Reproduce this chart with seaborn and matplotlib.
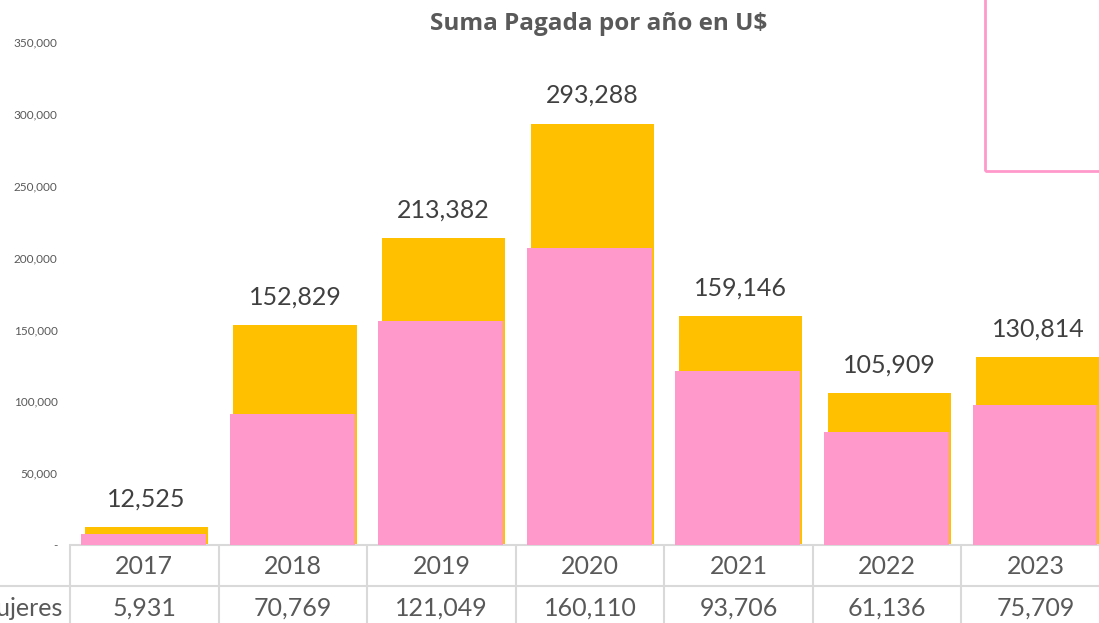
import numpy as np
import pandas as pd
import matplotlib.pyplot as plt
import seaborn as sns
from matplotlib.patches import Rectangle
from matplotlib.transforms import blended_transform_factory

# Data
years = ['2017', '2018', '2019', '2020', '2021', '2022', '2023']
total_pagado = [12525, 152829, 213382, 293288, 159146, 105909, 130814]
mujeres = [5931, 70769, 121049, 160110, 93706, 61136, 75709]

orange = '#FFC000'
pink = '#FF99CC'
grid_gray = '#D9D9D9'
text_gray = '#595959'

sns.set_style('white')
plt.rcParams['font.family'] = ['Lato', 'DejaVu Sans']

W, H = 1099, 623
fig = plt.figure(figsize=(W / 100, H / 100), dpi=100)
ax = fig.add_axes([70 / W, 1 - 545 / H, 1040 / W, 503 / H])

pos = np.arange(len(years))
df = pd.DataFrame({'pos': pos, 'total': total_pagado, 'mujeres': mujeres})

# total bars (primary axis)
sns.barplot(data=df, x=df['pos'] + 0.015, y='total', native_scale=True,
            width=0.83, color=orange, saturation=1, linewidth=0, ax=ax)
ax.set_xlim(-0.5, 6.5)
ax.set_ylim(0, 350000)

# Mujeres bars on hidden secondary axis
ax2 = ax.twinx()
sns.barplot(data=df, x=df['pos'] - 0.005, y='mujeres', native_scale=True,
            width=0.84, color=pink, saturation=1, linewidth=0, ax=ax2)
ax2.set_xlim(-0.5, 6.5)
ax2.set_ylim(0, 271300)
ax2.set_yticks([])
ax2.set_ylabel('')
for s in ax2.spines.values():
    s.set_visible(False)

# data labels for totals
for p, v in zip(pos, total_pagado):
    ax.annotate(f'{v:,}', (p + 0.015, v), xytext=(0, 12), textcoords='offset points',
                ha='center', va='bottom', fontsize=18, color='#404040')

# y axis
ticks = np.arange(0, 350001, 50000)
ax.set_yticks(ticks)
ax.set_yticklabels(['-' if t == 0 else f'{t:,}' for t in ticks],
                   fontsize=8.5, color=text_gray)
ax.tick_params(axis='y', length=0, pad=9)
ax.set_xticks([])
ax.set_xlabel('')
ax.set_ylabel('')
for s in ax.spines.values():
    s.set_visible(False)

# data table below the plot
tr = blended_transform_factory(ax.transData, ax.transAxes)
row1 = -(22 / 503)
row2 = -(63 / 503)
for p, y, m in zip(pos, years, mujeres):
    ax.text(p, row1, y, transform=tr, ha='center', va='center',
            fontsize=18, color=text_gray, clip_on=False)
    ax.text(p, row2, f'{m:,}', transform=tr, ha='center', va='center',
            fontsize=18, color=text_gray, clip_on=False)
ax.text(-0.545, row2, 'Mujeres', transform=tr, ha='right', va='center',
        fontsize=18, color=text_gray, clip_on=False)

for b in np.arange(-0.5, 7.0, 1.0):
    ax.plot([b, b], [0, -0.2], transform=tr, color=grid_gray, lw=1.5,
            clip_on=False)
ax.plot([-0.5, 7], [0, 0], transform=tr, color=grid_gray, lw=1.5, clip_on=False)
fig.add_artist(plt.Line2D([0, 1], [1 - 586 / H, 1 - 586 / H],
                          transform=fig.transFigure, color=grid_gray, lw=1.5))

# title
fig.text(599 / W, 1 - 24 / H, 'Suma Pagada por año en U$', ha='center', va='center',
         fontsize=17.5, fontweight='bold', color=text_gray,
         family=['Open Sans', 'DejaVu Sans'])

# legend frame (cropped)
fig.add_artist(Rectangle((985 / W, 1 - 171 / H), 0.3, 0.5, fill=False,
                         edgecolor=pink, lw=2, transform=fig.transFigure))

fig.savefig('out.png', dpi=100)
